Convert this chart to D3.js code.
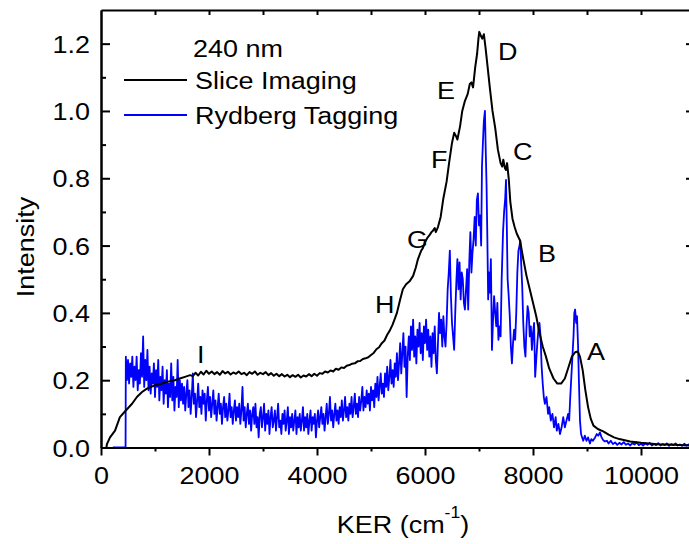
<!DOCTYPE html>
<html>
<head>
<meta charset="utf-8">
<script src="https://cdn.jsdelivr.net/npm/d3@7"></script>
<style>
  body { margin: 0; background: #fff; }
  text { font-family: Arial, "Liberation Sans", sans-serif; fill: #000; }
</style>
</head>
<body>
<svg id="chart" width="689" height="544"></svg>
<script>
// KER (cm-1), intensity
const sliceImaging = [
  [100,0],[110,.01],[167,.03],[260,.05],[350,.09],[460,.11],[575,.13],[665,.15],[760,.165],[850,.175],
  [1000,.185],[1130,.19],[1220,.195],[1370,.2],[1460,.205],[1555,.21],[1650,.215],
  [1700,.212],[1750,.222],[1800,.214],[1850,.225],[1900,.217],[1950,.228],[2000,.219],[2050,.226],
  [2100,.218],[2150,.224],[2200,.216],[2250,.227],[2300,.22],[2350,.225],[2400,.217],[2450,.223],
  [2500,.219],[2550,.226],[2600,.218],[2650,.222],[2700,.215],[2750,.224],[2800,.219],[2850,.226],
  [2900,.216],[2950,.222],[3000,.218],[3050,.224],[3100,.215],[3150,.221],[3200,.213],[3250,.219],
  [3300,.212],[3350,.218],[3400,.211],[3450,.216],[3500,.209],[3550,.215],[3600,.21],[3650,.216],
  [3700,.208],[3750,.214],[3800,.211],[3850,.218],[3900,.212],[3950,.219],[4000,.213],[4050,.221],
  [4100,.219],[4150,.226],[4200,.223],[4250,.229],[4300,.226],[4350,.234],[4400,.231],[4450,.238],
  [4500,.236],[4550,.243],[4600,.245],[4650,.249],[4700,.25],[4750,.256],[4800,.257],[4850,.263],
  [4900,.265],[4950,.268],[5000,.275],[5050,.281],[5100,.292],[5150,.298],[5200,.31],[5250,.318],
  [5300,.335],[5350,.348],[5400,.365],[5440,.382],[5480,.4],[5510,.42],[5540,.44],[5590,.47],
  [5650,.485],[5720,.495],[5780,.51],[5830,.535],[5870,.56],[5930,.585],[5960,.592],[6000,.61],
  [6040,.622],[6080,.63],[6120,.64],[6150,.645],[6180,.652],[6200,.64],[6240,.655],[6290,.685],
  [6340,.74],[6400,.79],[6450,.85],[6500,.905],[6540,.935],[6575,.925],[6600,.915],[6650,.955],
  [6690,1.0],[6740,1.03],[6790,1.05],[6830,1.08],[6860,1.085],[6890,1.07],[6930,1.13],[6965,1.17],
  [6990,1.215],[7005,1.235],[7030,1.225],[7060,1.215],[7090,1.228],[7120,1.19],[7160,1.13],
  [7200,1.07],[7250,1.0],[7300,.95],[7350,.885],[7400,.845],[7430,.835],[7450,.855],[7480,.83],
  [7500,.825],[7520,.845],[7550,.8],[7580,.73],[7620,.68],[7660,.655],[7700,.635],[7760,.615],
  [7820,.56],[7880,.51],[7940,.47],[8000,.43],[8060,.39],[8120,.34],[8180,.3],[8240,.27],
  [8300,.235],[8380,.205],[8450,.19],[8520,.19],[8590,.205],[8660,.24],[8720,.27],[8780,.283],
  [8830,.285],[8870,.27],[8920,.23],[8970,.17],[9020,.12],[9070,.085],[9120,.065],[9200,.055],
  [9300,.048],[9400,.038],[9500,.03],[9600,.025],[9800,.018],[10000,.014],[10300,.01],[10600,.008],
  [10926,.006]
];

const rydbergTagging = [
  [220,0],[455,0],[460,.27],[480,.20],[500,.26],[520,.19],[540,.25],[560,.21],[580,.27],[600,.18],
  [620,.24],[640,.20],[660,.27],[680,.17],[700,.23],[720,.19],[740,.28],[760,.21],[780,.33],[800,.18],
  [820,.26],[840,.20],[860,.29],[880,.17],[900,.24],[920,.16],[940,.22],[960,.19],[980,.25],[1000,.15],
  [1020,.23],[1040,.18],[1060,.26],[1080,.14],[1100,.21],[1120,.17],[1140,.24],[1160,.13],[1180,.20],
  [1200,.16],[1220,.23],[1240,.12],[1260,.19],[1280,.15],[1300,.25],[1320,.14],[1340,.21],[1360,.11],
  [1380,.18],[1400,.15],[1420,.26],[1440,.12],[1460,.20],[1480,.14],[1500,.19],
  [1520,.13],[1540,.18],[1560,.11],[1580,.16],[1600,.20],[1620,.12],[1640,.17],[1660,.10],[1680,.15],
  [1700,.22],[1720,.13],[1740,.16],[1760,.09],[1780,.14],[1800,.19],[1820,.12],[1840,.15],[1860,.10],
  [1880,.17],[1900,.13],[1920,.16],[1940,.08],[1960,.14],[1980,.18],[2000,.11],[2020,.15],[2040,.09],
  [2060,.13],[2080,.17],[2100,.10],[2120,.14],[2140,.08],[2160,.12],[2180,.16],[2200,.10],[2220,.13],
  [2240,.07],[2260,.12],[2280,.15],[2300,.09],[2320,.13],[2340,.08],[2360,.11],[2380,.16],[2400,.09],
  [2420,.12],[2440,.07],[2460,.11],[2480,.14],[2500,.08],
  [2520,.12],[2540,.09],[2560,.13],[2580,.07],[2600,.11],[2620,.18],[2640,.08],[2660,.12],[2680,.06],
  [2700,.10],[2720,.13],[2740,.07],[2760,.11],[2780,.05],[2800,.10],[2820,.12],[2840,.07],[2860,.13],
  [2880,.06],[2900,.09],[2920,.03],[2940,.10],[2960,.12],[2980,.06],[3000,.09],[3020,.13],[3040,.05],
  [3060,.10],[3080,.07],[3100,.11],[3120,.04],[3140,.09],[3160,.12],[3180,.06],[3200,.08],[3220,.11],
  [3240,.05],[3260,.09],[3280,.13],[3300,.06],[3320,.08],[3340,.04],[3360,.10],[3380,.07],[3400,.11],
  [3420,.05],[3440,.08],[3460,.12],[3480,.04],[3500,.09],[3520,.06],[3540,.10],[3560,.05],[3580,.08],
  [3600,.11],[3620,.04],[3640,.09],[3660,.06],[3680,.10],[3700,.05],[3720,.08],[3740,.12],[3760,.05],
  [3780,.09],[3800,.06],[3820,.10],[3840,.04],[3860,.08],[3880,.11],[3900,.05],[3920,.09],[3940,.07],
  [3960,.10],[3980,.03],[4000,.08],
  [4020,.11],[4040,.06],[4060,.09],[4080,.12],[4100,.07],[4120,.10],[4140,.05],[4160,.09],[4180,.13],
  [4200,.07],[4220,.10],[4240,.15],[4260,.08],[4280,.11],[4300,.06],[4320,.10],[4340,.13],[4360,.08],
  [4380,.11],[4400,.07],[4420,.12],[4440,.09],[4460,.14],[4480,.08],[4500,.11],[4520,.15],[4540,.09],
  [4560,.12],[4580,.08],[4600,.13],[4620,.10],[4640,.15],[4660,.09],[4680,.12],[4700,.16],[4720,.10],
  [4740,.13],[4760,.09],[4780,.15],[4800,.11],[4820,.14],[4840,.18],[4860,.11],[4880,.15],[4900,.12],
  [4920,.17],[4940,.13],[4960,.16],[4980,.11],[5000,.18],[5020,.14],[5040,.17],[5060,.12],[5080,.19],
  [5100,.15],[5120,.21],[5140,.14],[5160,.18],[5180,.22],[5200,.16],[5220,.19],[5240,.15],[5260,.22],
  [5280,.18],[5300,.24],[5320,.17],[5340,.21],[5360,.26],[5380,.19],[5400,.23],[5420,.18],[5440,.25],
  [5460,.21],[5480,.28],[5500,.20],
  [5520,.25],[5540,.31],[5560,.22],[5580,.28],[5600,.34],[5620,.24],[5640,.30],[5660,.15],[5680,.27],
  [5700,.33],[5720,.26],[5740,.36],[5760,.29],[5780,.38],[5800,.27],[5820,.33],[5840,.25],[5860,.35],
  [5880,.30],[5900,.37],[5920,.28],[5940,.34],[5960,.26],[5980,.36],[6000,.31],[6020,.38],[6040,.29],
  [6060,.35],[6080,.27],[6100,.33],[6120,.24],[6140,.34],[6160,.28],[6180,.36],[6200,.26],[6220,.22],
  [6240,.31],[6260,.40],[6280,.34],[6300,.38],[6320,.30],[6340,.39],[6360,.33],[6380,.30],[6400,.37],
  [6420,.47],[6440,.52],[6460,.585],[6480,.45],[6500,.37],[6520,.33],[6540,.29],[6560,.40],[6580,.49],
  [6600,.56],[6620,.47],[6640,.55],[6660,.44],[6680,.52],[6700,.50],[6720,.43],[6740,.41],[6760,.47],
  [6780,.53],[6800,.41],[6820,.55],[6840,.64],[6860,.52],[6880,.58],[6900,.62],[6920,.685],[6940,.60],
  [6960,.735],[6980,.755],[7000,.66],[7020,.69],[7040,.60],[7055,.835],[7075,.915],[7090,.97],
  [7110,1.0],[7125,.88],[7140,.78],[7155,.62],[7170,.44],[7185,.52],[7200,.46],[7220,.56],[7240,.29],
  [7260,.38],[7280,.45],[7300,.40],[7320,.36],[7340,.43],[7360,.32],[7380,.36],[7400,.33],[7420,.50],
  [7445,.64],[7465,.70],[7485,.74],[7500,.795],[7515,.66],[7530,.50],[7550,.45],[7570,.39],[7590,.30],
  [7610,.25],[7630,.31],[7650,.35],[7670,.32],[7690,.40],[7710,.52],[7730,.585],[7750,.60],[7765,.615],
  [7780,.55],[7800,.48],[7820,.37],[7840,.30],[7860,.27],[7880,.36],[7900,.42],[7920,.40],[7940,.33],
  [7960,.36],[7980,.29],[8000,.34],[8020,.37],[8040,.21],[8060,.26],[8080,.31],[8100,.35],[8120,.37],
  [8140,.33],[8160,.24],[8180,.19],[8200,.15],[8220,.13],[8250,.15],[8280,.10],[8300,.12],[8330,.08],
  [8360,.10],[8390,.06],[8420,.09],[8440,.05],[8470,.07],[8500,.04],[8530,.06],[8560,.09],[8590,.06],
  [8620,.08],[8650,.10],[8670,.08],[8690,.15],[8720,.24],[8750,.33],[8765,.40],[8780,.41],[8800,.37],
  [8815,.39],[8835,.30],[8850,.20],[8870,.08],[8890,.04],[8910,.03],[8930,.02],[8960,.035],[8990,.02],
  [9020,.03],[9055,.012],[9080,.025],[9110,.02],[9150,.03],[9180,.04],[9210,.035],[9240,.045],
  [9270,.03],[9300,.022],[9330,.018],[9370,.02],[9400,.012],[9440,.02],[9480,.01],[9520,.015],
  [9560,.008],[9600,.014],[9640,.009],[9680,.016],[9720,.008],[9760,.012],[9800,.006],[9840,.013],
  [9880,.009],[9920,.015],[9960,.007],[10000,.011],[10040,.006],[10080,.012],[10120,.008],[10160,.014],
  [10200,.006],[10240,.01],[10280,.007],[10320,.013],[10360,.006],[10400,.01],[10440,.007],[10480,.012],
  [10520,.005],[10560,.01],[10600,.007],[10640,.012],[10680,.006],[10720,.009],[10760,.005],[10800,.011],
  [10840,.006],[10880,.009],[10926,.007]
];

const xTicks = [0, 2000, 4000, 6000, 8000, 10000];
const xMinorTicks = [1000, 3000, 5000, 7000, 9000];
const yTicks = [0, 0.2, 0.4, 0.6, 0.8, 1.0, 1.2];
const yMinorTicks = [0.1, 0.3, 0.5, 0.7, 0.9, 1.1];
const topTicks = [1000, 2000, 3000, 4000, 5000, 6000, 7000, 8000, 9000, 10000];

// peak letters, placed at [KER, intensity] of their lower-left corner
const peakLabels = [
  { label: "A", ker: 9000, intensity: 0.26 },
  { label: "B", ker: 8093, intensity: 0.551 },
  { label: "C", ker: 7630, intensity: 0.854 },
  { label: "D", ker: 7352, intensity: 1.152 },
  { label: "E", ker: 6222, intensity: 1.036 },
  { label: "F", ker: 6111, intensity: 0.831 },
  { label: "G", ker: 5667, intensity: 0.593 },
  { label: "H", ker: 5074, intensity: 0.4 },
  { label: "I", ker: 1778, intensity: 0.251 }
];

const series = [
  { name: "Slice Imaging", data: sliceImaging, color: "#000000", width: 2 },
  { name: "Rydberg Tagging", data: rydbergTagging, color: "#0000ff", width: 1.8 }
];

const fontSize = 24.5;
const stretch = "scale(1.1,1)";

const svg = d3.select("#chart");
const x = d3.scaleLinear().domain([0, 10926]).range([101, 691]);
const y = d3.scaleLinear().domain([0, 1.3]).range([447.5, 10]);

const line = d3.line()
  .x((d) => x(d[0]))
  .y((d) => y(d[1]));

// rydberg under slice
svg.selectAll(".series")
  .data(series.slice().reverse())
  .join("path")
  .attr("class", "series")
  .attr("fill", "none")
  .attr("stroke", (d) => d.color)
  .attr("stroke-width", (d) => d.width)
  .attr("stroke-linejoin", "round")
  .attr("d", (d) => line(d.data));

const styleAxis = (g) => {
  g.select(".domain").attr("stroke", "#000").attr("stroke-width", 2);
  g.selectAll(".tick line").attr("stroke", "#000").attr("stroke-width", 2);
  g.selectAll("text")
    .attr("font-size", fontSize)
    .attr("font-family", "Arial, 'Liberation Sans', sans-serif")
    .attr("transform", stretch);
};

// bottom
svg.append("g")
  .attr("transform", `translate(0,${y(0)})`)
  .call(d3.axisBottom(x).tickValues(xMinorTicks).tickSize(4).tickSizeOuter(0).tickFormat(""))
  .call(styleAxis);
svg.append("g")
  .attr("transform", `translate(0,${y(0)})`)
  .call(d3.axisBottom(x).tickValues(xTicks).tickSize(8).tickSizeOuter(0).tickPadding(11).tickFormat(d3.format("d")))
  .call(styleAxis);

// left (ticks inward)
svg.append("g")
  .attr("transform", `translate(${x(0)},0)`)
  .call(d3.axisLeft(y).tickValues(yMinorTicks).tickSize(-5).tickSizeOuter(0).tickFormat(""))
  .call(styleAxis);
svg.append("g")
  .attr("transform", `translate(${x(0)},0)`)
  .call(d3.axisLeft(y).tickValues(yTicks).tickSize(-9).tickSizeOuter(0).tickPadding(10).tickFormat(d3.format(".1f")))
  .call(styleAxis)
  .selectAll("text").attr("dy", "0.35em");

// top and right frame, ticks inward
svg.append("g")
  .attr("transform", `translate(0,${y(1.3)})`)
  .call(d3.axisTop(x).tickValues(topTicks).tickSize(-5).tickSizeOuter(0).tickFormat(""))
  .call(styleAxis);
svg.append("g")
  .attr("transform", `translate(${x(10926)},0)`)
  .call(d3.axisRight(y).tickValues(yTicks.slice(1)).tickSize(-5).tickSizeOuter(0).tickFormat(""))
  .call(styleAxis);

// axis titles
const xTitle = svg.append("text")
  .attr("transform", `translate(403,533) ${stretch}`)
  .attr("text-anchor", "middle")
  .attr("font-size", fontSize);
xTitle.append("tspan").text("KER (cm");
xTitle.append("tspan").attr("dy", -15).attr("font-size", 16).text("-1");
xTitle.append("tspan").attr("dy", 15).text(")");

svg.append("text")
  .attr("transform", `translate(34,247) rotate(-90) ${stretch}`)
  .attr("text-anchor", "middle")
  .attr("font-size", fontSize)
  .text("Intensity");

// legend
const legend = svg.append("g");
legend.append("text")
  .attr("transform", `translate(193,57) ${stretch}`)
  .attr("font-size", fontSize)
  .text("240 nm");
const legendRows = [{ s: series[0], y: 80 }, { s: series[1], y: 115 }];
legendRows.forEach(({ s, y: ly }) => {
  legend.append("line")
    .attr("x1", 124).attr("x2", 187)
    .attr("y1", ly).attr("y2", ly)
    .attr("stroke", s.color)
    .attr("stroke-width", s.width);
  legend.append("text")
    .attr("transform", `translate(195,${ly + 9}) ${stretch}`)
    .attr("font-size", fontSize)
    .text(s.name);
});

// peak labels
svg.selectAll(".peak")
  .data(peakLabels)
  .join("text")
  .attr("class", "peak")
  .attr("transform", (d) => `translate(${x(d.ker)},${y(d.intensity)}) ${stretch}`)
  .attr("font-size", fontSize)
  .text((d) => d.label);
</script>
</body>
</html>
